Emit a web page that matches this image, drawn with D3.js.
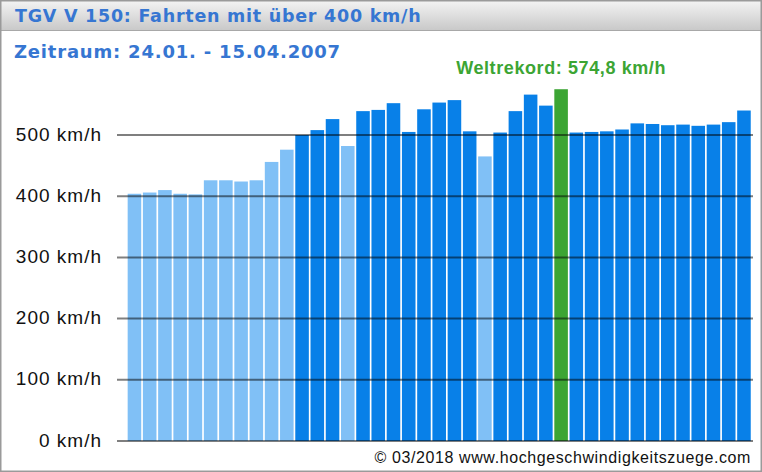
<!DOCTYPE html>
<html>
<head>
<meta charset="utf-8">
<script src="https://cdn.jsdelivr.net/npm/d3@7"></script>
<style>
  body { margin: 0; background: #fff; }
  svg { display: block; }
</style>
</head>
<body>
<script>
// data
const runs = d3.range(1, 42);
const speeds = [
  404, 406, 410, 404, 403, 426, 426, 424, 426, 456, 476,
  500, 508, 526, 482, 539, 541, 552, 505, 542, 553, 557, 506, 465,
  504, 539, 566, 548, 574.8, 504, 505, 506, 509, 519, 518, 516, 517, 515, 517, 521, 540
];
// 0 = unter 500 km/h, 1 = über 500 km/h, 2 = Weltrekord
const kinds = [
  0, 0, 0, 0, 0, 0, 0, 0, 0, 0, 0,
  1, 1, 1, 0, 1, 1, 1, 1, 1, 1, 1, 1, 0,
  1, 1, 1, 1, 2, 1, 1, 1, 1, 1, 1, 1, 1, 1, 1, 1, 1
];
const yTicks = [0, 100, 200, 300, 400, 500];

const width = 762;
const height = 472;

const colors = ["#80c0f6", "#0880e8", "#3ca534"];

const svg = d3.select("body").append("svg")
  .attr("width", width)
  .attr("height", height);

// header bar
const grad = svg.append("defs").append("linearGradient")
  .attr("id", "head").attr("x1", 0).attr("y1", 0).attr("x2", 0).attr("y2", 1);
grad.append("stop").attr("offset", "0%").attr("stop-color", "#f4f4f4");
grad.append("stop").attr("offset", "100%").attr("stop-color", "#c9c9c9");

svg.append("rect")
  .attr("x", 0).attr("y", 0).attr("width", width).attr("height", 30)
  .attr("fill", "url(#head)");
svg.append("line")
  .attr("x1", 0).attr("x2", width).attr("y1", 30.5).attr("y2", 30.5)
  .attr("stroke", "#a8a8a8");

svg.append("text")
  .attr("x", 15).attr("y", 22)
  .attr("fill", "#3676d2")
  .style("font", "bold 17.5px 'DejaVu Sans'")
  .style("letter-spacing", "0.75px")
  .text("TGV V 150: Fahrten mit über 400 km/h");

svg.append("text")
  .attr("x", 14).attr("y", 58)
  .attr("fill", "#3676d2")
  .style("font", "bold 18px 'DejaVu Sans'")
  .style("letter-spacing", "0.8px")
  .text("Zeitraum: 24.01. - 15.04.2007");

// scales
const x = d3.scaleBand()
  .domain(runs)
  .range([126.9, 751.5])
  .paddingInner(0.11)
  .paddingOuter(0.05);

const y = d3.scaleLinear()
  .domain([0, 600])
  .range([441, 73.8]);

// bars
svg.append("g")
  .selectAll("rect")
  .data(speeds)
  .enter()
  .append("rect")
  .attr("x", (d, i) => x(runs[i]))
  .attr("y", (d) => y(d))
  .attr("width", x.bandwidth())
  .attr("height", (d) => y(0) - y(d))
  .attr("fill", (d, i) => colors[kinds[i]]);

// grid over the bars + labels
const grid = svg.append("g");
grid.selectAll("line")
  .data(yTicks)
  .enter()
  .append("line")
  .attr("x1", 117).attr("x2", 753)
  .attr("y1", (d) => y(d)).attr("y2", (d) => y(d))
  .attr("stroke", "#000")
  .attr("stroke-opacity", 0.5)
  .attr("stroke-width", 2);

grid.selectAll("text")
  .data(yTicks)
  .enter()
  .append("text")
  .attr("x", 102)
  .attr("y", (d) => y(d) + 5.5)
  .attr("text-anchor", "end")
  .attr("fill", "#111")
  .style("font", "19px 'Liberation Sans'")
  .style("letter-spacing", "1px")
  .text((d) => `${d} km/h`);

// record label
const recIdx = kinds.indexOf(2);
svg.append("text")
  .attr("x", x(runs[recIdx]) + x.bandwidth() / 2)
  .attr("y", 74)
  .attr("text-anchor", "middle")
  .attr("fill", "#3ca534")
  .style("font", "bold 18px 'Liberation Sans'")
  .style("letter-spacing", "0.6px")
  .text(`Weltrekord: ${d3.format(".1f")(speeds[recIdx]).replace(".", ",")} km/h`);

// footer
svg.append("text")
  .attr("x", 751).attr("y", 463)
  .attr("text-anchor", "end")
  .attr("fill", "#111")
  .style("font", "16px 'Liberation Sans'")
  .style("letter-spacing", "0.6px")
  .text("© 03/2018 www.hochgeschwindigkeitszuege.com");

// frame
svg.append("rect")
  .attr("x", 0.75).attr("y", 0.75)
  .attr("width", width - 1.5).attr("height", height - 1.5)
  .attr("fill", "none")
  .attr("stroke", "#9a9a9a")
  .attr("stroke-width", 1.5);
</script>
</body>
</html>
